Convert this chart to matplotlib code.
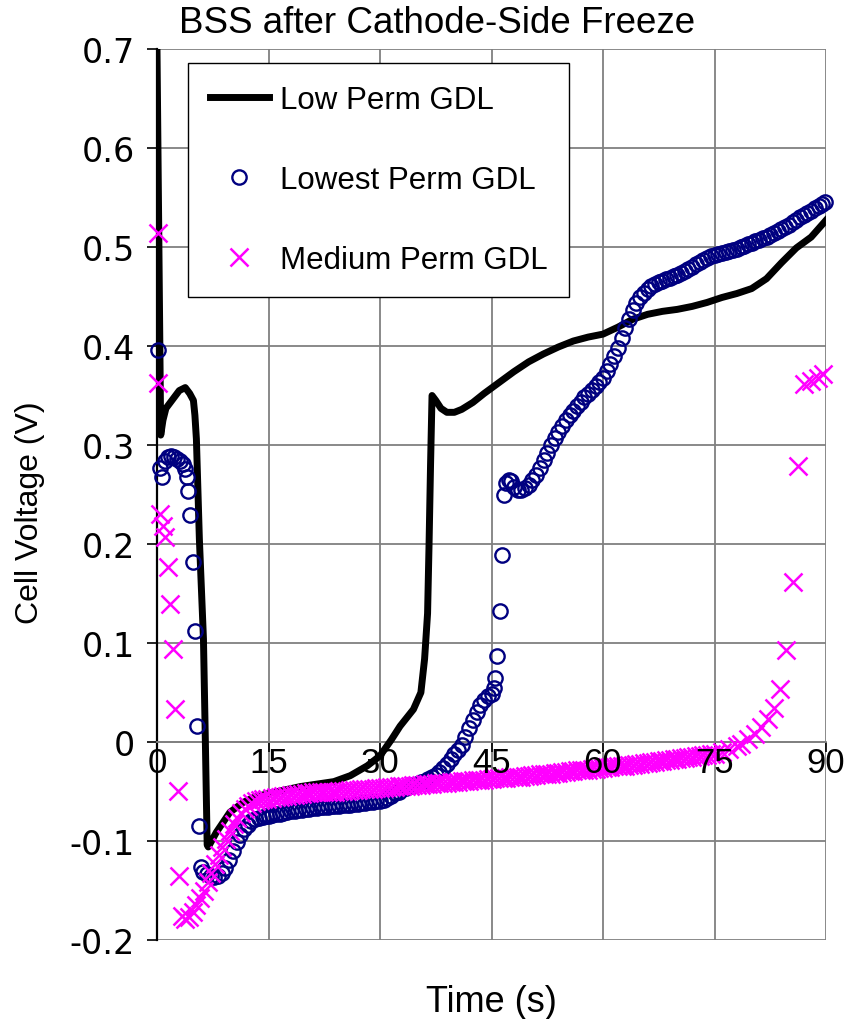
import matplotlib
matplotlib.use('Agg')
import matplotlib.pyplot as plt

plt.rcParams['font.family'] = ['Liberation Sans', 'DejaVu Sans']

# Low Perm GDL (solid black line), (time s, voltage V)
low_pts = [
    (0, 0.70), (0.5, 0.31), (0.8, 0.325), (1.2, 0.337), (2.0, 0.345), (3.0, 0.355),
    (3.8, 0.358), (4.4, 0.352), (4.9, 0.345), (5.1, 0.33), (5.3, 0.306), (5.7, 0.205),
    (6.0, 0.15), (6.25, 0.104), (6.5, 0.003), (6.75, -0.104), (6.9, -0.106), (8.0, -0.091),
    (9.8, -0.071), (11.6, -0.061), (13, -0.056), (15, -0.052), (19.3, -0.045), (23.8, -0.040),
    (26, -0.034), (28.3, -0.024), (30, -0.014), (31.5, 0.002), (32.7, 0.016), (34.5, 0.033),
    (35.5, 0.05), (36, 0.084), (36.4, 0.13), (36.6, 0.2), (36.8, 0.28), (37.0, 0.35),
    (37.5, 0.345), (38.2, 0.337), (39.0, 0.333), (40.0, 0.333), (41.0, 0.336), (42.5, 0.343),
    (44, 0.352), (46, 0.363), (48, 0.374), (50, 0.384), (52, 0.392), (54, 0.399),
    (56, 0.405), (58, 0.409), (60, 0.412), (62, 0.419), (64, 0.427), (66, 0.432),
    (68, 0.435), (70, 0.437), (72, 0.440), (74, 0.444), (76, 0.449), (78, 0.453),
    (80, 0.458), (82, 0.468), (84, 0.484), (86, 0.499), (88, 0.510), (90, 0.527),
]

# Lowest Perm GDL (navy open circles)
lowest_pts = [
    (0.15, 0.396), (0.4, 0.277), (0.7, 0.268), (1.1, 0.284), (1.5, 0.288), (1.9, 0.289),
    (2.3, 0.288), (2.7, 0.286), (3.1, 0.284), (3.5, 0.281), (3.8, 0.276), (4.0, 0.268),
    (4.2, 0.254), (4.4, 0.229), (4.8, 0.182), (5.1, 0.112), (5.4, 0.016), (5.7, -0.085),
    (5.9, -0.126), (6.2, -0.131), (6.7, -0.133), (7.2, -0.135), (7.7, -0.136), (8.2, -0.135),
    (8.7, -0.132), (9.2, -0.127), (9.7, -0.119), (10.2, -0.110), (10.7, -0.101), (11.2, -0.094),
    (11.7, -0.088), (12.2, -0.084), (12.7, -0.080), (13.2, -0.078), (13.7, -0.077), (14.2, -0.076),
    (14.7, -0.075), (15, -0.075), (15.5, -0.074), (16, -0.073), (16.5, -0.073), (17, -0.072),
    (17.5, -0.071), (18, -0.070), (18.5, -0.070), (19, -0.069), (19.5, -0.069), (20, -0.068),
    (20.5, -0.068), (21, -0.067), (21.5, -0.067), (22, -0.066), (22.5, -0.066), (23, -0.066),
    (23.5, -0.065), (24, -0.065), (24.5, -0.065), (25, -0.064), (25.5, -0.064), (26, -0.064),
    (26.5, -0.063), (27, -0.063), (27.5, -0.062), (28, -0.062), (28.5, -0.061), (29, -0.061),
    (29.5, -0.060), (30, -0.060), (30.5, -0.059), (31, -0.057), (31.5, -0.055), (32, -0.052),
    (32.5, -0.050), (33, -0.047), (33.5, -0.046), (34, -0.044), (34.5, -0.043), (35, -0.042),
    (35.5, -0.040), (36, -0.039), (36.5, -0.037), (37, -0.035), (37.5, -0.033), (38, -0.030),
    (38.5, -0.026), (39, -0.022), (39.5, -0.017), (40, -0.012), (40.5, -0.008), (41, -0.003),
    (41.5, 0.005), (42, 0.014), (42.5, 0.022), (43, 0.030), (43.5, 0.037), (44, 0.042),
    (44.5, 0.046), (45, 0.048), (45.3, 0.055), (45.5, 0.065), (45.8, 0.087), (46.1, 0.132),
    (46.4, 0.189), (46.7, 0.249), (47.0, 0.262), (47.3, 0.265), (47.6, 0.264), (48, 0.258),
    (48.5, 0.255), (49, 0.255), (49.5, 0.257), (50, 0.260), (50.5, 0.265), (51, 0.270),
    (51.5, 0.277), (52, 0.285), (52.5, 0.292), (53, 0.300), (53.5, 0.307), (54, 0.313),
    (54.5, 0.319), (55, 0.325), (55.5, 0.330), (56, 0.334), (56.5, 0.339), (57, 0.343),
    (57.5, 0.348), (58, 0.352), (58.5, 0.356), (59, 0.360), (59.5, 0.364), (60, 0.368),
    (60.5, 0.375), (61, 0.382), (61.5, 0.390), (62, 0.398), (62.5, 0.408), (63, 0.418),
    (63.5, 0.427), (64, 0.436), (64.5, 0.443), (65, 0.449), (65.5, 0.454), (66, 0.458),
    (66.5, 0.461), (67, 0.463), (67.5, 0.465), (68, 0.466), (68.5, 0.468), (69, 0.469),
    (69.5, 0.471), (70, 0.472), (70.5, 0.474), (71, 0.476), (71.5, 0.478), (72, 0.480),
    (72.5, 0.483), (73, 0.485), (73.5, 0.487), (74, 0.489), (74.5, 0.491), (75, 0.492),
    (75.5, 0.493), (76, 0.494), (76.5, 0.495), (77, 0.496), (77.5, 0.497), (78, 0.498),
    (78.5, 0.500), (79, 0.501), (79.5, 0.503), (80, 0.504), (80.5, 0.506), (81, 0.507),
    (81.5, 0.509), (82, 0.510), (82.5, 0.512), (83, 0.514), (83.5, 0.516), (84, 0.518),
    (84.5, 0.520), (85, 0.522), (85.5, 0.525), (86, 0.527), (86.5, 0.530), (87, 0.532),
    (87.5, 0.534), (88, 0.536), (88.5, 0.539), (89, 0.541), (89.5, 0.543), (89.8, 0.545),
]

# Medium Perm GDL (magenta crosses)
medium_pts = [
    (0.1, 0.514), (0.1, 0.363), (0.4, 0.230), (0.8, 0.218), (1.1, 0.207), (1.5, 0.177),
    (1.8, 0.139), (2.2, 0.094), (2.4, 0.033), (2.8, -0.049), (3.0, -0.135), (3.3, -0.176),
    (3.8, -0.179), (4.3, -0.177), (4.8, -0.172), (5.3, -0.165), (5.8, -0.158), (6.3, -0.150),
    (6.8, -0.141), (7.3, -0.132), (7.8, -0.123), (8.3, -0.114), (8.8, -0.106), (9.3, -0.098),
    (9.8, -0.090), (10.3, -0.083), (10.8, -0.077), (11.3, -0.072), (11.8, -0.068), (12.3, -0.065),
    (12.8, -0.062), (13.3, -0.060), (13.8, -0.059), (14.3, -0.058), (14.8, -0.058), (15.5, -0.057),
    (16, -0.056), (16.5, -0.056), (17, -0.055), (17.5, -0.055), (18, -0.054), (18.5, -0.054),
    (19, -0.053), (19.5, -0.053), (20, -0.052), (20.5, -0.052), (21, -0.051), (21.5, -0.051),
    (22, -0.051), (22.5, -0.050), (23, -0.050), (23.5, -0.050), (24, -0.050), (24.5, -0.049),
    (25, -0.049), (25.5, -0.049), (26, -0.048), (26.5, -0.048), (27, -0.048), (27.5, -0.047),
    (28, -0.047), (28.5, -0.047), (29, -0.047), (29.5, -0.046), (30, -0.046), (30.5, -0.046),
    (31, -0.045), (31.5, -0.045), (32, -0.045), (32.5, -0.044), (33, -0.044), (33.5, -0.044),
    (34, -0.044), (34.5, -0.043), (35, -0.043), (35.5, -0.043), (36, -0.042), (36.5, -0.042),
    (37, -0.042), (37.5, -0.041), (38, -0.041), (38.5, -0.041), (39, -0.041), (39.5, -0.040),
    (40, -0.040), (40.5, -0.040), (41, -0.039), (41.5, -0.039), (42, -0.039), (42.5, -0.038),
    (43, -0.038), (43.5, -0.038), (44, -0.038), (44.5, -0.037), (45, -0.037), (45.5, -0.036),
    (46, -0.036), (46.5, -0.036), (47, -0.036), (47.5, -0.035), (48, -0.035), (48.5, -0.035),
    (49, -0.035), (49.5, -0.034), (50, -0.034), (50.5, -0.033), (51, -0.033), (51.5, -0.032),
    (52, -0.032), (52.5, -0.032), (53, -0.032), (53.5, -0.031), (54, -0.031), (54.5, -0.030),
    (55, -0.030), (55.5, -0.029), (56, -0.029), (56.5, -0.028), (57, -0.028), (57.5, -0.028),
    (58, -0.028), (58.5, -0.027), (59, -0.027), (59.5, -0.026), (60, -0.026), (60.5, -0.025),
    (61, -0.025), (61.5, -0.024), (62, -0.024), (62.5, -0.024), (63, -0.024), (63.5, -0.023),
    (64, -0.023), (64.5, -0.022), (65, -0.022), (65.5, -0.021), (66, -0.021), (66.5, -0.020),
    (67, -0.020), (67.5, -0.019), (68, -0.019), (68.5, -0.018), (69, -0.018), (69.5, -0.017),
    (70, -0.017), (70.5, -0.016), (71, -0.016), (71.5, -0.015), (72, -0.015), (72.5, -0.014),
    (73, -0.014), (73.5, -0.013), (74, -0.013), (74.5, -0.012), (75, -0.012), (76, -0.010),
    (77, -0.007), (78, -0.004), (78.6, -0.002), (79.5, 0.003), (80.4, 0.008), (81.3, 0.015),
    (82.2, 0.023), (83.0, 0.034), (83.8, 0.054), (84.6, 0.093), (85.6, 0.162), (86.2, 0.279),
    (87.1, 0.362), (88.0, 0.365), (88.9, 0.368), (89.6, 0.372),
]

x_ticks = [0, 15, 30, 45, 60, 75, 90]
y_ticks = [-0.2, -0.1, 0, 0.1, 0.2, 0.3, 0.4, 0.5, 0.6, 0.7]
y_labels = ['-0.2', '-0.1', '0', '0.1', '0.2', '0.3', '0.4', '0.5', '0.6', '0.7']

low_t, low_v = zip(*low_pts)
lowest_t, lowest_v = zip(*lowest_pts)
medium_t, medium_v = zip(*medium_pts)

fig = plt.figure(figsize=(8.46, 10.2), dpi=100)
ax = fig.add_axes([157/846, 1 - 941/1020, 669/846, 891/1020])

ax.plot(low_t, low_v, color='black', lw=5, solid_joinstyle='round',
        label='Low Perm GDL', zorder=3)
ax.plot(lowest_t, lowest_v, ls='none', marker='o', ms=10.3, mfc='none',
        mec='#000080', mew=1.7, label='Lowest Perm GDL', zorder=4, clip_on=False)
ax.plot(medium_t, medium_v, ls='none', marker='x', ms=12.5, mec='#FF00FF',
        mew=1.8, label='Medium Perm GDL', zorder=5, clip_on=False)

ax.set_xlim(0, 90)
ax.set_ylim(-0.2, 0.7)
ax.set_xticks(x_ticks)
ax.set_yticks(y_ticks)
ax.set_yticklabels(y_labels, fontsize=24, family='DejaVu Sans')
ax.tick_params(axis='x', labelbottom=False, direction='out', length=7, width=1.2, color='black')
ax.tick_params(axis='y', direction='out', length=7, width=1.2, color='black', pad=9)

ax.grid(True, color='#808080', lw=1.3)
ax.set_axisbelow(True)
for s in ['top', 'right']:
    ax.spines[s].set_visible(False)
ax.spines['bottom'].set_position(('data', 0))
ax.spines['bottom'].set_color('#808080')
ax.spines['bottom'].set_linewidth(1.3)
ax.spines['left'].set_linewidth(1.6)

# x tick labels drawn over the data, hanging from the zero line
for t in x_ticks:
    ax.annotate(str(t), xy=(t, 0), xytext=(0, -3), textcoords='offset points',
                ha='center', va='top', fontsize=25, zorder=10)

leg = ax.legend(loc='upper left', bbox_to_anchor=(0.046, 0.984), fontsize=22.5,
                frameon=True, fancybox=False, edgecolor='black', framealpha=1,
                borderpad=0.7, labelspacing=1.6, handlelength=1.9, handletextpad=0.35,
                borderaxespad=0)
leg.get_frame().set_linewidth(1.0)

fig.text(437/846, 1 - 33/1020, 'BSS after Cathode-Side Freeze', ha='center',
         va='baseline', fontsize=26.5)
fig.text(30/846, 1 - 513/1020, 'Cell Voltage (V)', ha='center', va='center',
         rotation=90, fontsize=23)
fig.text(491/846, 1 - 1012/1020, 'Time (s)', ha='center', va='baseline', fontsize=26)

fig.savefig('out.png', dpi=100)
